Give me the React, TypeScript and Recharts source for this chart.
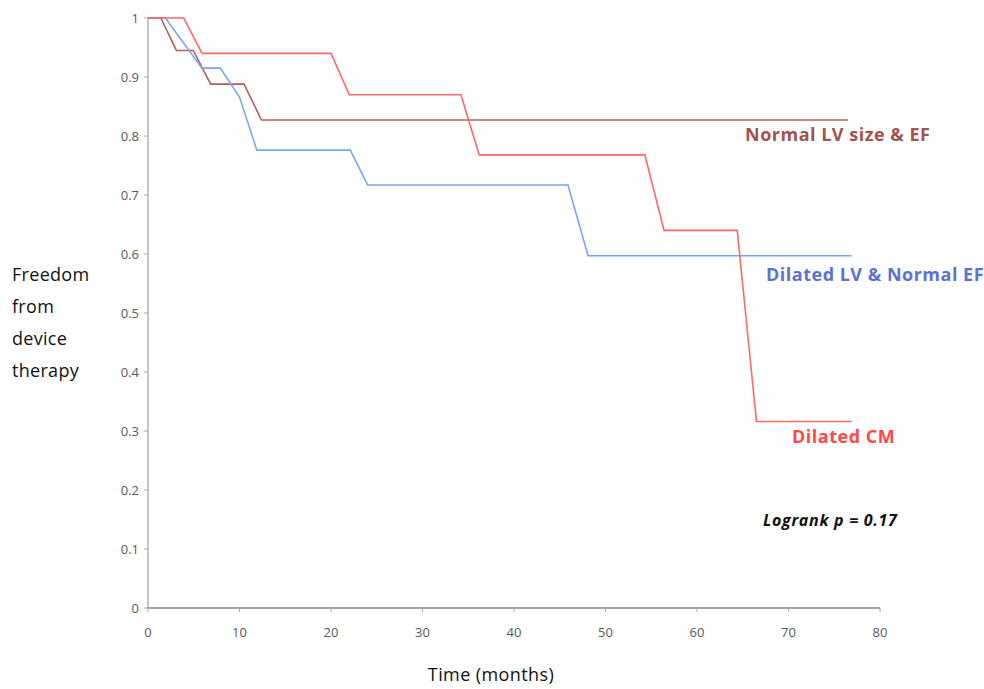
import React from "react";
import { LineChart, Line, XAxis, YAxis } from "recharts";

const xTicks = [0, 10, 20, 30, 40, 50, 60, 70, 80];
const yTicks = [0, 0.1, 0.2, 0.3, 0.4, 0.5, 0.6, 0.7, 0.8, 0.9, 1];

const dilatedCMTime = [0, 3.9, 5.9, 20, 22, 34.2, 36.2, 54.3, 56.4, 64.4, 66.5, 76.9];
const dilatedCMValue = [1, 1, 0.94, 0.94, 0.87, 0.87, 0.768, 0.768, 0.64, 0.64, 0.316, 0.316];

const dilatedLVTime = [0, 1.9, 5.9, 7.9, 10.0, 11.9, 22.1, 24.0, 45.9, 48.1, 76.9];
const dilatedLVValue = [1, 1, 0.915, 0.915, 0.866, 0.776, 0.776, 0.717, 0.717, 0.597, 0.597];

const normalTime = [0, 1.4, 3.1, 4.95, 6.85, 10.5, 12.4, 76.5];
const normalValue = [1, 1, 0.945, 0.945, 0.888, 0.888, 0.827, 0.827];

const toRows = (t: number[], v: number[]) => t.map((x, i) => ({ t: x, v: v[i] }));

const font = "'Open Sans', 'Liberation Sans', sans-serif";

export default function App() {
  return (
    <div style={{ position: "absolute", left: 0, top: 0, width: 984, height: 689, background: "#fff", fontFamily: font }}>
      <LineChart width={984} height={689} margin={{ top: 18, right: 104, bottom: 51, left: 108 }}>
        <XAxis
          type="number"
          dataKey="t"
          domain={[0, 80]}
          ticks={xTicks}
          allowDuplicatedCategory={false}
          height={30}
          stroke="#a6a6a6"
          strokeWidth={2}
          tickSize={4}
          tickMargin={16}
          tick={{ fontSize: 13, fill: "#595959", fontFamily: font }}
          tickLine={{ stroke: "#a6a6a6", strokeWidth: 1 }}
        />
        <YAxis
          type="number"
          dataKey="v"
          domain={[0, 1]}
          ticks={yTicks}
          width={40}
          stroke="#8c8c8c"
          tickSize={4}
          tickMargin={5}
          tick={{ fontSize: 13, fill: "#595959", fontFamily: font }}
          tickLine={{ stroke: "#a6a6a6" }}
        />
        <Line data={toRows(normalTime, normalValue)} dataKey="v" type="linear" stroke="#b3605c" strokeWidth={1.6} dot={false} isAnimationActive={false} />
        <Line data={toRows(dilatedLVTime, dilatedLVValue)} dataKey="v" type="linear" stroke="#7aa6f5" strokeWidth={1.6} dot={false} isAnimationActive={false} />
        <Line data={toRows(dilatedCMTime, dilatedCMValue)} dataKey="v" type="linear" stroke="#ff6666" strokeWidth={1.6} dot={false} isAnimationActive={false} />
      </LineChart>

      <div style={{ position: "absolute", left: 12, top: 258, fontSize: 18, letterSpacing: 0.3, lineHeight: "32px", color: "#111" }}>
        Freedom<br />from<br />device<br />therapy
      </div>
      <div style={{ position: "absolute", left: 0, width: 982, top: 662, textAlign: "center", fontSize: 18, letterSpacing: 0.4, color: "#111" }}>
        Time (months)
      </div>
      <div style={{ position: "absolute", left: 745, top: 122, fontSize: 18, letterSpacing: 0.5, fontWeight: 700, color: "#a3524e", whiteSpace: "nowrap" }}>
        Normal LV size &amp; EF
      </div>
      <div style={{ position: "absolute", left: 766, top: 262, fontSize: 18, letterSpacing: 0.5, fontWeight: 700, color: "#5a72d6", whiteSpace: "nowrap" }}>
        Dilated LV &amp; Normal EF
      </div>
      <div style={{ position: "absolute", left: 792, top: 424, fontSize: 18, letterSpacing: 0.5, fontWeight: 700, color: "#ff4747", whiteSpace: "nowrap" }}>
        Dilated CM
      </div>
      <div style={{ position: "absolute", left: 763, top: 509, fontSize: 16, letterSpacing: 0.7, fontWeight: 700, fontStyle: "italic", color: "#111", whiteSpace: "nowrap" }}>
        Logrank p = 0.17
      </div>
    </div>
  );
}
